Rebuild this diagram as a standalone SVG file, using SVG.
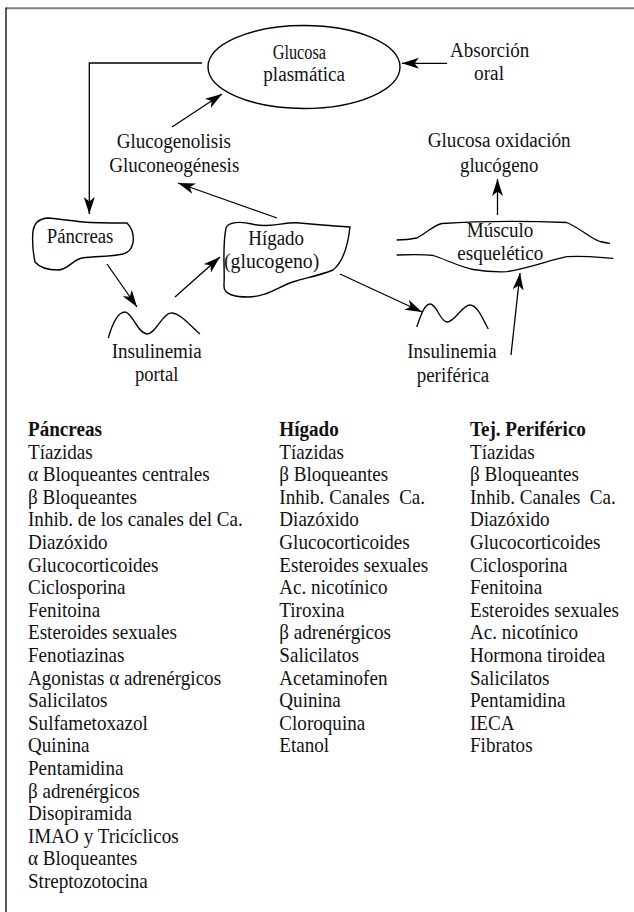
<svg xmlns="http://www.w3.org/2000/svg" width="634" height="912" viewBox="0 0 634 912">
<style>
text{font-family:"Liberation Serif","Times New Roman",serif;fill:#111;}
.lb{font-size:20px;}
.ls{font-size:20px;white-space:pre;}
.hd{font-weight:bold;}
.ln{fill:none;stroke:#000;stroke-width:1.3;}
.ar{fill:none;stroke:#000;stroke-width:1.3;marker-end:url(#ah);}
.sh{fill:#fff;stroke:#000;stroke-width:1.4;}
</style>
<defs>
<marker id="ah" markerUnits="userSpaceOnUse" markerWidth="18" markerHeight="12" refX="17" refY="5.5" orient="auto">
<path d="M0,0 L17,5.5 L0,11 L4.5,5.5 Z" fill="#000"/>
</marker>
</defs>
<rect width="634" height="912" fill="#fff"/>
<line x1="6" y1="8.3" x2="634" y2="8.3" stroke="#808080" stroke-width="2"/>
<line x1="6" y1="7.5" x2="6" y2="912" stroke="#000" stroke-width="1.3"/>

<g id="connectors">
<line class="ar" x1="447" y1="63.3" x2="402" y2="63.3"/>
<polyline class="ar" points="202,63 89.3,63 89.3,214"/>
<line class="ar" x1="172" y1="127" x2="222" y2="94"/>
<line class="ar" x1="277" y1="218" x2="178" y2="183"/>
<line class="ar" x1="107" y1="264" x2="137" y2="307"/>
<line class="ar" x1="175" y1="297" x2="220" y2="257"/>
<line class="ar" x1="340" y1="274" x2="422" y2="312"/>
<line class="ar" x1="511" y1="355" x2="520" y2="273"/>
<line class="ar" x1="497.5" y1="215" x2="497.5" y2="179"/>
</g>

<g id="glucosa-plasmatica">
<ellipse class="sh" cx="304" cy="67" rx="96" ry="41.5"/>
<text class="lb" x="272.7" y="59" textLength="53.3" lengthAdjust="spacingAndGlyphs">Glucosa</text>
<text class="lb" x="263.3" y="81" textLength="81.7" lengthAdjust="spacingAndGlyphs">plasmática</text>
</g>

<g id="absorcion-oral">
<text class="lb" x="450" y="56.7" textLength="79.3" lengthAdjust="spacingAndGlyphs">Absorción</text>
<text class="lb" x="474" y="80" textLength="30" lengthAdjust="spacingAndGlyphs">oral</text>
</g>

<g id="glucosa-oxidacion">
<text class="lb" x="427.7" y="146.7" textLength="143" lengthAdjust="spacingAndGlyphs">Glucosa oxidación</text>
<text class="lb" x="460" y="171.7" textLength="78.3" lengthAdjust="spacingAndGlyphs">glucógeno</text>
</g>

<g id="glucogenolisis">
<text class="lb" x="116.7" y="148.3" textLength="114.3" lengthAdjust="spacingAndGlyphs">Glucogenolisis</text>
<text class="lb" x="109.3" y="171.7" textLength="130" lengthAdjust="spacingAndGlyphs">Gluconeogénesis</text>
</g>

<g id="pancreas">
<path class="sh" d="M33,231 C34,224 38,219 47,218 C60,219 72,221 83,222 C95,223 110,223 127,223 C132,228 134,236 133,243 C131,250 129,252 123,254 C110,257 98,256 82,258 C72,260 68,270 58,270 C48,270 40,268 35,262 C33,252 32,241 33,231 Z"/>
<text class="lb" x="46.7" y="243.3" textLength="66.7" lengthAdjust="spacingAndGlyphs">Páncreas</text>
</g>

<g id="higado">
<path class="sh" d="M226,228 C228,222 240,221 252,224 C270,229 285,221 300,223 C320,225 335,226 350,227 C348,245 343,262 333,270 C318,276 305,278 296,281 C280,285 268,297 248,297 C236,297 223,295 224,285 C225,268 222,248 226,228 Z"/>
<text class="lb" x="248.3" y="245" textLength="55.7" lengthAdjust="spacingAndGlyphs">Hígado</text>
<text class="lb" x="224" y="268.3" textLength="95.3" lengthAdjust="spacingAndGlyphs">(glucogeno)</text>
</g>

<g id="musculo">
<path class="ln" d="M396.7,240 C405,240 412,239 417,238 C428,232 434,225 442,223.5 C480,221 530,221 566.7,222.5 C580,228 590,238 600,241.5 C604,242.5 607,243 610,243.3"/>
<path class="ln" d="M396.7,255 C410,254.5 425,254.5 433.3,255.5 C447,260 460,267 473.3,269.5 C485,271.5 497,272 506.7,271.7 C530,268 550,260 566.7,256.7 C585,255.5 600,257.5 613.3,258.3"/>
<text class="lb" x="466.7" y="236.7" textLength="66.7" lengthAdjust="spacingAndGlyphs">Músculo</text>
<text class="lb" x="457.3" y="260" textLength="86" lengthAdjust="spacingAndGlyphs">esquelético</text>
</g>

<g id="insulinemia-portal">
<path class="ln" d="M108.3,338 C112,325 118,312 125,312 C132,312 138,334 147,334 C156,334 163,312 172,313 C182,314 192,328 200,334"/>
<text class="lb" x="111.7" y="358.3" textLength="90" lengthAdjust="spacingAndGlyphs">Insulinemia</text>
<text class="lb" x="135" y="380.7" textLength="43.3" lengthAdjust="spacingAndGlyphs">portal</text>
</g>

<g id="insulinemia-periferica">
<path class="ln" d="M416.7,327 C420,318 424,304 430,304 C437,304 440,322 447,322 C455,322 462,305 470,305 C478,305 484,322 488.3,329"/>
<text class="lb" x="407.3" y="358.3" textLength="89.4" lengthAdjust="spacingAndGlyphs">Insulinemia</text>
<text class="lb" x="416.7" y="381.7" textLength="72.6" lengthAdjust="spacingAndGlyphs">periférica</text>
</g>

<g id="lista-pancreas" transform="translate(28,0) scale(0.955,1)">
<text class="ls" y="436"><tspan x="0" class="hd">Páncreas</tspan><tspan x="0" dy="22.6">Tíazidas</tspan><tspan x="0" dy="22.6">α Bloqueantes centrales</tspan><tspan x="0" dy="22.6">β Bloqueantes</tspan><tspan x="0" dy="22.6">Inhib. de los canales del Ca.</tspan><tspan x="0" dy="22.6">Diazóxido</tspan><tspan x="0" dy="22.6">Glucocorticoides</tspan><tspan x="0" dy="22.6">Ciclosporina</tspan><tspan x="0" dy="22.6">Fenitoina</tspan><tspan x="0" dy="22.6">Esteroides sexuales</tspan><tspan x="0" dy="22.6">Fenotiazinas</tspan><tspan x="0" dy="22.6">Agonistas α adrenérgicos</tspan><tspan x="0" dy="22.6">Salicilatos</tspan><tspan x="0" dy="22.6">Sulfametoxazol</tspan><tspan x="0" dy="22.6">Quinina</tspan><tspan x="0" dy="22.6">Pentamidina</tspan><tspan x="0" dy="22.6">β adrenérgicos</tspan><tspan x="0" dy="22.6">Disopiramida</tspan><tspan x="0" dy="22.6">IMAO y Tricíclicos</tspan><tspan x="0" dy="22.6">α Bloqueantes</tspan><tspan x="0" dy="22.6">Streptozotocina</tspan></text>
</g>

<g id="lista-higado" transform="translate(279.3,0) scale(0.955,1)">
<text class="ls" y="436"><tspan x="0" class="hd">Hígado</tspan><tspan x="0" dy="22.6">Tíazidas</tspan><tspan x="0" dy="22.6">β Bloqueantes</tspan><tspan x="0" dy="22.6">Inhib. Canales  Ca.</tspan><tspan x="0" dy="22.6">Diazóxido</tspan><tspan x="0" dy="22.6">Glucocorticoides</tspan><tspan x="0" dy="22.6">Esteroides sexuales</tspan><tspan x="0" dy="22.6">Ac. nicotínico</tspan><tspan x="0" dy="22.6">Tiroxina</tspan><tspan x="0" dy="22.6">β adrenérgicos</tspan><tspan x="0" dy="22.6">Salicilatos</tspan><tspan x="0" dy="22.6">Acetaminofen</tspan><tspan x="0" dy="22.6">Quinina</tspan><tspan x="0" dy="22.6">Cloroquina</tspan><tspan x="0" dy="22.6">Etanol</tspan></text>
</g>

<g id="lista-periferico" transform="translate(470,0) scale(0.955,1)">
<text class="ls" y="436"><tspan x="0" class="hd">Tej. Periférico</tspan><tspan x="0" dy="22.6">Tíazidas</tspan><tspan x="0" dy="22.6">β Bloqueantes</tspan><tspan x="0" dy="22.6">Inhib. Canales  Ca.</tspan><tspan x="0" dy="22.6">Diazóxido</tspan><tspan x="0" dy="22.6">Glucocorticoides</tspan><tspan x="0" dy="22.6">Ciclosporina</tspan><tspan x="0" dy="22.6">Fenitoina</tspan><tspan x="0" dy="22.6">Esteroides sexuales</tspan><tspan x="0" dy="22.6">Ac. nicotínico</tspan><tspan x="0" dy="22.6">Hormona tiroidea</tspan><tspan x="0" dy="22.6">Salicilatos</tspan><tspan x="0" dy="22.6">Pentamidina</tspan><tspan x="0" dy="22.6">IECA</tspan><tspan x="0" dy="22.6">Fibratos</tspan></text>
</g>
</svg>
